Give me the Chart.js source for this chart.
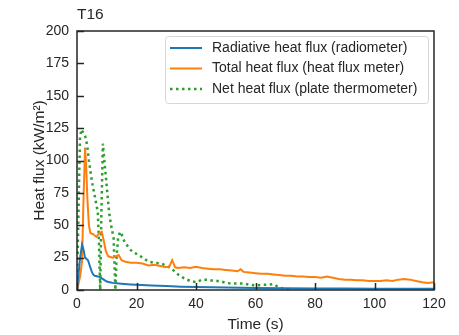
<!DOCTYPE html>
<html lang="en">
<head>
  <meta charset="UTF-8" />
  <title>T16 heat flux</title>
  <script src="https://cdn.jsdelivr.net/npm/chart.js"></script>
  <style>
    html, body { margin: 0; padding: 0; background: #fff; }
    #wrap { width: 459px; height: 335px; }
  </style>
</head>
<body>
  <div id="wrap"><canvas id="fluxChart" width="459" height="335"></canvas></div>

  <script>
    const chartTitle = "T16";
    const xTicks = [0, 20, 40, 60, 80, 100, 120];
    const yTicks = [0, 25, 50, 75, 100, 125, 150, 175, 200];

    // radiometer
    const tRad = [0, 0.5, 1, 1.7, 2.2, 2.7, 3.2, 3.7, 4.4, 5, 5.4, 6, 7, 7.7, 9, 10, 11, 12, 14, 16, 18, 20, 25, 30, 35, 40, 50, 60, 70, 80, 90, 100, 110, 120];
    const qRad = [0, 12, 24, 35, 31, 25, 24, 23, 18, 14, 12, 11, 10.5, 10, 8, 6.5, 6, 5.5, 5, 4.6, 4.3, 4, 3.5, 3, 2.6, 2.3, 2, 1.6, 1.3, 1.2, 1.1, 1, 1, 1];

    // heat flux meter
    const tTot = [0, 1, 1.7, 2.1, 2.7, 3.1, 3.5, 4, 4.5, 5.5, 6.5, 7.5, 8.3, 9, 9.7, 10.5, 12, 13, 14, 15, 16, 18, 20, 22, 24, 26, 28, 30, 31, 32, 33, 34, 36, 38, 40, 42, 44, 46, 48, 50, 52, 54, 55, 56, 58, 60, 62, 64, 66, 68, 70, 72, 74, 76, 78, 80, 82, 84, 86, 88, 90, 92, 94, 96, 98, 100, 102, 104, 106, 108, 110, 112, 114, 116, 118, 120];
    const qTot = [0, 10, 22, 62, 110, 95, 70, 50, 44, 43, 41, 44, 45, 38, 30, 26, 25, 26, 27, 23, 22, 21, 21, 20.5, 19, 19.5, 18.5, 17.5, 18, 23, 17.5, 17, 17.5, 17, 18, 17, 16.5, 16, 16, 15.5, 15, 14.5, 16, 14, 13.5, 13, 12.5, 12.5, 12, 11.5, 11, 11, 10.5, 10.5, 10, 10, 9.5, 10.5, 9.5, 8.5, 8, 8, 7.5, 7.5, 7, 7, 7, 7.5, 7, 8, 8.5, 8, 7, 6, 5.5, 6];

    // plate thermometer
    const tNet = [0, 0.5, 1, 1.5, 2, 2.5, 3, 3.5, 4, 4.5, 5, 5.5, 6, 6.5, 7, 7.4, 7.8, 8.2, 8.7, 9.2, 9.8, 10.3, 10.8, 11.3, 11.8, 12.3, 12.6, 12.9, 13.3, 13.8, 14.5, 15, 16, 17, 18, 19, 20, 22, 24, 26, 28, 30, 32, 34, 36, 38, 40, 42, 44, 46, 48, 50, 52, 54, 56, 58, 60, 62, 64, 66, 68, 70, 72];
    const qNet = [0, 60, 118, 124, 122, 120, 117, 110, 100, 92, 84, 78, 72, 66, 60, 35, 0, 60, 113, 100, 85, 72, 60, 52, 46, 40, 20, 0, 25, 40, 45, 43, 37, 34, 31, 29, 28, 25, 22, 21, 20.5, 19, 16, 12, 9, 7, 6, 8, 8, 7, 7, 5.5, 5, 5, 5, 4, 3.5, 4, 4, 4.5, 2, 0.5, 0];

    const toPoints = (ts, qs) => ts.map((t, i) => ({ x: t, y: qs[i] }));

    const ink = "#262626";
    const fontFam = "'Liberation Sans', Arial, sans-serif";

    const legendItems = [
      { label: "Radiative heat flux (radiometer)", color: "#1f77b4", dash: [] },
      { label: "Total heat flux (heat flux meter)", color: "#ff7f0e", dash: [] },
      { label: "Net heat flux (plate thermometer)", color: "#2ca02c", dash: [2.5, 3.5] }
    ];

    // frame, inward ticks, legend and panel title
    const decorations = {
      id: "decorations",
      afterDatasetsDraw(chart) {
        const { ctx, chartArea: a, scales } = chart;
        ctx.save();
        ctx.strokeStyle = ink;
        ctx.lineWidth = 1.5;
        ctx.strokeRect(a.left, a.top, a.right - a.left, a.bottom - a.top);

        ctx.beginPath();
        xTicks.forEach(v => {
          const px = Math.round(scales.x.getPixelForValue(v)) + 0.5;
          ctx.moveTo(px, a.bottom);
          ctx.lineTo(px, a.bottom - 7);
        });
        yTicks.forEach(v => {
          const py = Math.round(scales.y.getPixelForValue(v)) + 0.5;
          ctx.moveTo(a.left, py);
          ctx.lineTo(a.left + 7, py);
        });
        ctx.stroke();

        // legend
        const bx = 165, by = 36, bw = 263, bh = 67;
        ctx.beginPath();
        ctx.roundRect(bx + 0.5, by + 0.5, bw, bh, 3);
        ctx.fillStyle = "rgba(255,255,255,0.85)";
        ctx.fill();
        ctx.strokeStyle = "#d6d6d6";
        ctx.lineWidth = 1;
        ctx.stroke();

        ctx.font = "14px " + fontFam;
        ctx.textBaseline = "middle";
        ctx.textAlign = "left";
        legendItems.forEach((item, i) => {
          const y = 48 + i * 20.5;
          ctx.beginPath();
          ctx.setLineDash(item.dash);
          ctx.strokeStyle = item.color;
          ctx.lineWidth = item.dash.length ? 2.5 : 2;
          ctx.moveTo(170, y);
          ctx.lineTo(202, y);
          ctx.stroke();
          ctx.setLineDash([]);
          ctx.fillStyle = ink;
          ctx.fillText(item.label, 212, y);
        });

        ctx.font = "15.5px " + fontFam;
        ctx.textBaseline = "alphabetic";
        ctx.fillText(chartTitle, a.left, 19);
        ctx.restore();
      }
    };

    new Chart(document.getElementById("fluxChart"), {
      type: "line",
      data: {
        datasets: [
          {
            label: legendItems[0].label,
            data: toPoints(tRad, qRad),
            borderColor: "#1f77b4",
            borderWidth: 2
          },
          {
            label: legendItems[1].label,
            data: toPoints(tTot, qTot),
            borderColor: "#ff7f0e",
            borderWidth: 2
          },
          {
            label: legendItems[2].label,
            data: toPoints(tNet, qNet),
            borderColor: "#2ca02c",
            borderWidth: 2.5,
            borderDash: [2.5, 3.5]
          }
        ]
      },
      options: {
        responsive: false,
        animation: false,
        parsing: false,
        elements: { point: { radius: 0 }, line: { tension: 0 } },
        layout: { padding: { left: 0, right: 25, top: 31, bottom: 0 } },
        scales: {
          x: {
            type: "linear",
            min: 0,
            max: 120,
            afterFit(s) { s.height = 45; },
            afterBuildTicks(s) { s.ticks = xTicks.map(v => ({ value: v })); },
            grid: { display: false, drawTicks: false },
            border: { display: false },
            ticks: { color: ink, padding: 6, font: { size: 14, family: fontFam } },
            title: { display: true, text: "Time (s)", color: ink, padding: { top: 0, bottom: 1 }, font: { size: 15.5, family: fontFam } }
          },
          y: {
            min: 0,
            max: 200,
            afterFit(s) { s.width = 77; },
            afterBuildTicks(s) { s.ticks = yTicks.map(v => ({ value: v })); },
            grid: { display: false, drawTicks: false },
            border: { display: false },
            ticks: { color: ink, padding: 8, font: { size: 14, family: fontFam } },
            title: { display: true, text: "Heat flux (kW/m²)", color: ink, padding: { top: 30, bottom: 0 }, font: { size: 15.5, family: fontFam } }
          }
        },
        plugins: {
          legend: { display: false },
          tooltip: { enabled: false }
        }
      },
      plugins: [decorations]
    });
  </script>
</body>
</html>
